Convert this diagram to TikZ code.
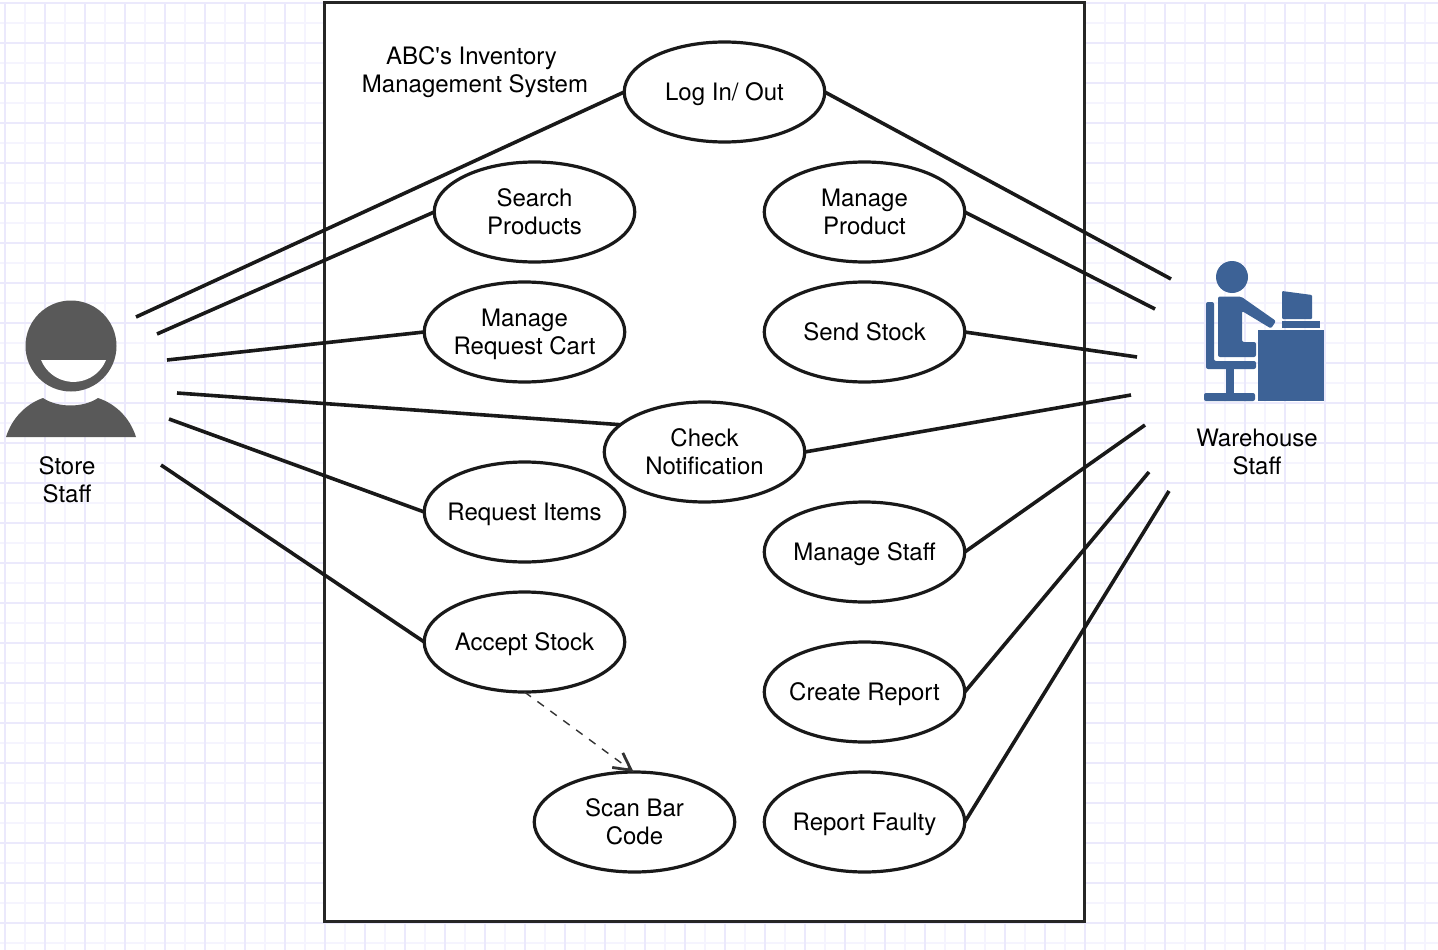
\documentclass[tikz,border=0pt]{standalone}
\usepackage{fontspec}
\setmainfont{TeX Gyre Heros}
\usetikzlibrary{shapes.geometric,arrows.meta}
\definecolor{gridmay}{HTML}{EBE9FC}
\definecolor{gridmen}{HTML}{F5F4FE}
\definecolor{gris}{HTML}{595959}
\definecolor{azul}{HTML}{3D6296}
\newcommand{\guia}{\rule[-6.8pt]{0pt}{30.8pt}}
\newcommand{\dos}[2]{\rule{0pt}{24pt}#1\\#2}
\begin{document}
\begin{tikzpicture}[x=1pt,y=-1pt]
% estilos de linea y relleno
\tikzstyle{uso} = [ellipse,draw=black!90,line width=3.2pt,fill=white,inner sep=-20pt,outer sep=0pt,minimum width=200.5pt,minimum height=100pt,align=center,execute at begin node=\guia,execute at end node=\guia];
\tikzstyle{rotulo} = [align=center,inner sep=0pt,execute at begin node=\guia,execute at end node=\guia];
\tikzstyle{enlace} = [line width=3.6pt,black!90];
\tikzstyle{incluye} = [line width=1.4pt,black!80,dash pattern=on 8pt off 8pt,-{Straight Barb[length=17pt,width=18pt,line width=2.8pt]}];
% definicion caso de uso
% #1: nombre del nodo
% #2: ubicación del caso
% #3: rótulo del caso
\newcommand{\casouso}[3]{
\node [uso] (#1) at #2 {#3};
}
% definicion enlace con actor
% #1: nombre del extremo libre
% #2: ubicación del extremo libre
% #3: ancla en el caso de uso
\newcommand{\enlazar}[3]{
\coordinate (#1) at #2;
\draw [enlace] (#3) -- (#1);
}
\useasboundingbox (0,0) rectangle (1438,950);
\fill [white] (0,0) rectangle (1438,950);
\begin{scope}[font=\fontsize{24}{28}\selectfont]
% dibujar cuadricula
\foreach \x in {25,65,...,1438} \draw [gridmen,line width=1.5pt] (\x,3) -- (\x,950);
\foreach \y in {23,63,...,950} \draw [gridmen,line width=1.5pt] (0,\y) -- (1438,\y);
\foreach \x in {5,45,...,1438} \draw [gridmay,line width=1.5pt] (\x,3) -- (\x,950);
\foreach \y in {3,43,...,950} \draw [gridmay,line width=1.5pt] (0,\y) -- (1438,\y);
% dibujar sistema
\node [draw=black!85,line width=3pt,fill=white,minimum width=760pt,minimum height=918pt,inner sep=0pt] (sistema) at (704,462) {};
\node [rotulo] (titulo) at (475,70) {\dos{ABC\textquotesingle s Inventory\kern7pt}{Management System}};
% dibujar actor tienda
\fill [gris] (71,346) circle (45.5);
\fill [white] (106,360) arc (22:158:35) -- cycle;
\fill [gris] (6,437) .. controls (12,418) and (26,404) .. (43,398) .. controls (58,408) and (83,408) .. (98,398) .. controls (116,404) and (130,418) .. (136,437) -- cycle;
\node [rotulo] (tienda) at (67,480) {\dos{Store}{Staff}};
% dibujar actor almacen
\begin{scope}[azul]
\fill [azul] (1232,277) circle (16);
\fill [azul,rounded corners=2pt] (1218,296.5) -- (1241,296.5) -- (1276,321) -- (1271,328.5) -- (1242,311) -- (1242,342) -- (1256,342) -- (1256,357) -- (1218,357) -- cycle;
\fill [azul,rounded corners=2pt] (1206,302) -- (1214,302) -- (1214,361) -- (1256,361) -- (1256,369) -- (1206,369) -- cycle;
\fill [azul] (1226,369) rectangle (1234,393);
\fill [azul,rounded corners=2pt] (1204,393) rectangle (1255,401);
\fill [azul] (1258,330) rectangle (1324,401);
\fill [azul] (1282,321) rectangle (1320,328);
\fill [azul,rounded corners=1pt] (1282,291) -- (1312,295) -- (1312,319) -- (1282,319) -- cycle;
\end{scope}
\node [rotulo] (almacen) at (1257,452) {\dos{Warehouse}{Staff}};
% dibujar casos de uso
\casouso{log}{(724.5,92)}{Log In/ Out}
\casouso{bus}{(534.5,212)}{\dos{Search}{Products}}
\casouso{pro}{(864.5,212)}{\dos{Manage}{Product}}
\casouso{car}{(524.5,332)}{\dos{Manage}{Request Cart}}
\casouso{env}{(864.5,332)}{Send Stock}
\casouso{sol}{(524.5,512)}{Request Items}
\casouso{not}{(704.5,452)}{\dos{Check}{Notification}}
\casouso{per}{(864.5,552)}{Manage Staff}
\casouso{ace}{(524.5,642)}{Accept Stock}
\casouso{inf}{(864.5,692)}{Create Report}
\casouso{esc}{(634.5,822)}{\dos{Scan Bar}{Code}}
\casouso{fal}{(864.5,822)}{Report Faulty}
% dibujar enlaces de tienda
\enlazar{t1}{(136,317)}{log.west}
\enlazar{t2}{(157,334)}{bus.west}
\enlazar{t3}{(167,360)}{car.west}
\enlazar{t4}{(177,393)}{not.162}
\enlazar{t5}{(169,419)}{sol.west}
\enlazar{t6}{(161,465)}{ace.west}
% dibujar enlaces de almacen
\enlazar{a1}{(1171,279)}{log.east}
\enlazar{a2}{(1155,309)}{pro.east}
\enlazar{a3}{(1137,357)}{env.east}
\enlazar{a4}{(1131,395)}{not.east}
\enlazar{a5}{(1145,425)}{per.east}
\enlazar{a6}{(1149,472)}{inf.east}
\enlazar{a7}{(1169,491)}{fal.east}
% dibujar inclusion
\draw [incluye] (ace.south) -- (esc.91);
\end{scope}
\end{tikzpicture}
\end{document}
